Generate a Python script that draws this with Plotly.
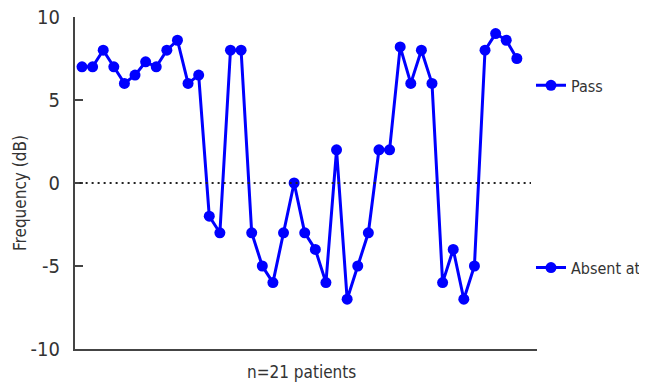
import plotly.graph_objects as go

patients = list(range(1, 43))
frequency_db = [7, 7, 8, 7, 6, 6.5, 7.3, 7, 8, 8.6, 6, 6.5,
                -2, -3, 8, 8, -3, -5, -6, -3, 0, -3, -4, -6,
                2, -7, -5, -3, 2, 2, 8.2, 6, 8, 6,
                -6, -4, -7, -5, 8, 9, 8.6, 7.5]
y_ticks = [-10, -5, 0, 5, 10]
y_tick_labels = ["-10", "-5", "0", "5", "10"]
legend_labels = ["Pass", "Absent at"]

BLUE = "#0000FF"
FONT = "DejaVu Sans Condensed, Roboto, sans-serif"
TXT = "#333333"

fig = go.Figure()
fig.add_trace(go.Scatter(
    x=patients, y=frequency_db, mode="lines+markers",
    line=dict(color=BLUE, width=3),
    marker=dict(color=BLUE, size=11),
    showlegend=False, cliponaxis=False,
))
fig.add_trace(go.Scatter(
    x=[None], y=[None], mode="lines+markers", name=legend_labels[0],
    line=dict(color=BLUE, width=3), marker=dict(color=BLUE, size=11),
    legend="legend",
))
fig.add_trace(go.Scatter(
    x=[None], y=[None], mode="lines+markers", name=legend_labels[1],
    line=dict(color=BLUE, width=3), marker=dict(color=BLUE, size=11),
    legend="legend2",
))

fig.add_shape(type="line", xref="paper", yref="y", x0=0.01, x1=0.987, y0=0, y1=0,
              line=dict(color="#222222", width=2, dash="2px,4px"))

fig.add_annotation(text="Frequency (dB)", textangle=-90, xref="paper", yref="paper",
                   x=-0.119, y=0.47, showarrow=False, xanchor="center", yanchor="middle",
                   font=dict(family=FONT, size=17, color=TXT))
fig.add_annotation(text="n=21 patients", xref="paper", yref="paper",
                   x=0.49, y=-0.0706, showarrow=False, xanchor="center", yanchor="middle",
                   font=dict(family=FONT, size=17, color=TXT))

legend_common = dict(xref="paper", yref="paper", xanchor="left", yanchor="middle",
                     bgcolor="rgba(0,0,0,0)", borderwidth=0,
                     font=dict(family=FONT, size=16, color=TXT), itemwidth=30)

# page body has an 8px margin: figure is sized/offset to compensate
fig.update_layout(
    width=663, height=378,
    margin=dict(l=67, r=134, t=8.5, b=36.5, autoexpand=False),
    paper_bgcolor="white", plot_bgcolor="white",
    font=dict(family=FONT, size=19, color=TXT),
    legend=dict(x=0.987, y=0.794, **legend_common),
    legend2=dict(x=0.987, y=0.245, **legend_common),
    xaxis=dict(range=[0.34, 43.9], showgrid=False, zeroline=False,
               showticklabels=False, ticks="", showline=True,
               linecolor="#444444", linewidth=2),
    yaxis=dict(range=[-10, 10], tickvals=y_ticks, ticktext=y_tick_labels,
               showgrid=False, zeroline=False, ticks="inside", ticklen=8,
               tickwidth=1.5, tickcolor="#444444", showline=True,
               linecolor="#444444", linewidth=2, ticklabelstandoff=9,
               ticklabeloverflow="allow",
               tickfont=dict(family=FONT, size=20, color=TXT)),
)

fig.write_html("out.html")
